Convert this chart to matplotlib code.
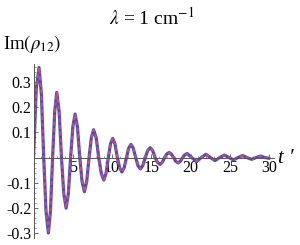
import matplotlib
matplotlib.use("Agg")
import matplotlib.pyplot as plt
from matplotlib.ticker import MultipleLocator, FixedLocator

plt.rcParams['font.family'] = ['Liberation Serif', 'DejaVu Serif']
plt.rcParams['mathtext.fontset'] = 'stix'

# Im(rho_12) versus t' (extrema, zero crossings, shoulders)
t_vals = [0.0, 0.15, 0.35, 0.70, 1.00, 1.30, 1.59, 1.89, 2.16, 2.43, 2.70, 2.96,
          3.26, 3.56, 3.85, 4.15, 4.44, 4.72, 5.01, 5.29, 5.59, 5.89, 6.18, 6.48,
          6.77, 7.07, 7.36, 7.65, 7.98, 8.30, 8.63, 8.95, 9.23, 9.52, 9.80, 10.08,
          10.37, 10.67, 10.96, 11.25, 11.54, 11.83, 12.11, 12.40, 12.70, 13.00, 13.30,
          13.60, 13.91, 14.23, 14.54, 14.85, 15.16, 15.48, 15.79, 16.10, 16.39, 16.68,
          16.96, 17.25, 17.54, 17.83, 18.11, 18.40, 18.69, 18.98, 19.26, 19.55, 20.15,
          20.75, 21.35, 21.95, 22.53, 23.10, 23.70, 24.30, 24.88, 25.45, 26.03, 26.60,
          27.18, 27.75, 28.33, 28.90, 29.45, 30.0]
im_rho = [0.0, 0.12, 0.27, 0.356, 0.252, 0.0, -0.211, -0.298, -0.211, 0.0, 0.182, 0.258,
          0.182, 0.0, -0.141, -0.200, -0.141, 0.0, 0.122, 0.172, 0.122, 0.0, -0.095, -0.135,
          -0.095, 0.0, 0.078, 0.110, 0.078, 0.0, -0.063, -0.089, -0.063, 0.0, 0.054, 0.076,
          0.054, 0.0, -0.040, -0.057, -0.040, 0.0, 0.037, 0.052, 0.037, 0.0, -0.032,
          -0.045, -0.032, 0.0, 0.028, 0.039, 0.028, 0.0, -0.019, -0.027, -0.019, 0.0,
          0.014, 0.020, 0.014, 0.0, -0.015, -0.021, -0.015, 0.0, 0.011, 0.016, 0.0,
          -0.016, 0.0, 0.013, 0.0, -0.012, 0.0, 0.010, 0.0, -0.009, 0.0, 0.008,
          0.0, -0.007, 0.0, 0.006, 0.0, -0.003]

x_ticks = [5, 10, 15, 20, 25, 30]
y_ticks = [-0.3, -0.2, -0.1, 0.1, 0.2, 0.3]

fig = plt.figure(figsize=(3.0, 2.45), dpi=100)
ax = fig.add_axes([0.1117, 0.0286, 0.8, 0.7102])

ax.plot(t_vals, im_rho, color='#4b50b4', lw=2.3, solid_capstyle='round')
ax.plot(t_vals, im_rho, color='#cc4a78', lw=1.4, dashes=(2.0, 1.4))

ax.set_xlim(0, 30.55)
ax.set_ylim(-0.318, 0.37)

ax.spines['top'].set_visible(False)
ax.spines['right'].set_visible(False)
ax.spines['bottom'].set_position(('data', 0))
for s in ['left', 'bottom']:
    ax.spines[s].set_color('#555555')
    ax.spines[s].set_linewidth(0.7)

ax.xaxis.set_major_locator(FixedLocator(x_ticks))
ax.xaxis.set_minor_locator(MultipleLocator(1))
ax.yaxis.set_major_locator(FixedLocator(y_ticks))
ax.yaxis.set_minor_locator(MultipleLocator(0.02))
ax.set_xticklabels([str(v) for v in x_ticks])
ax.set_yticklabels([f"{v:.1f}" for v in y_ticks])
ax.tick_params(which='major', direction='in', length=3, width=0.6, color='#555555',
               labelsize=11.5, pad=1.5)
ax.tick_params(which='minor', direction='in', length=1.5, width=0.5, color='#777777')

fig.text(0.505, 0.93, r"$\lambda$ = 1 cm$^{-1}$", ha='center', va='center', fontsize=14)
fig.text(0.01, 0.82, r"Im$(\rho_{12})$", ha='left', va='center', fontsize=13.5)
fig.text(0.925, 0.355, "t ′", ha='left', va='center', fontsize=15, fontstyle='italic')

fig.savefig("out.png", dpi=100)
